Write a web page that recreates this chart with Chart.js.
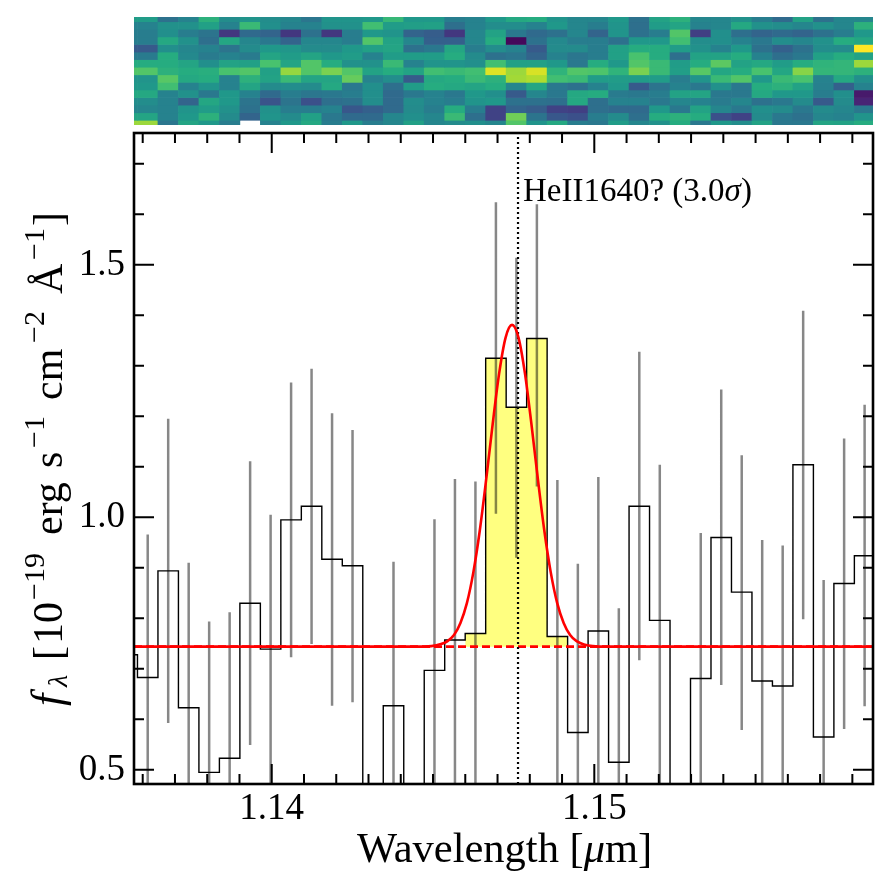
<!DOCTYPE html>
<html>
<head>
<meta charset="utf-8">
<title>HeII1640 spectrum</title>
<script src="https://cdn.jsdelivr.net/npm/chart.js@4/dist/chart.umd.min.js"></script>
<style>
  html, body { margin: 0; padding: 0; background: #fff; }
  #wrap { position: relative; width: 891px; height: 891px; overflow: hidden; }
  #spec { position: absolute; left: 0; top: 0; }
  #heat { position: absolute; left: 134px; top: 17px; }
</style>
</head>
<body>
<div id="wrap">
  <canvas id="spec" width="891" height="891"></canvas>
  <canvas id="heat" width="739" height="108"></canvas>
</div>
<script>
const xRange = [1.13573, 1.15864];
const yRange = [0.472, 1.761];

const xMinorTicks = [1.136, 1.137, 1.138, 1.139, 1.14, 1.141, 1.142, 1.143, 1.144, 1.145, 1.146, 1.147,
  1.148, 1.149, 1.15, 1.151, 1.152, 1.153, 1.154, 1.155, 1.156, 1.157, 1.158];
const xMajorTicks = [1.14, 1.15];
const yMinorTicks = [0.5, 0.6, 0.7, 0.8, 0.9, 1.0, 1.1, 1.2, 1.3, 1.4, 1.5, 1.6, 1.7];
const yMajorTicks = [0.5, 1.0, 1.5];

// spectrum bins
const wave = [1.13552, 1.136155, 1.13679, 1.137425, 1.13806, 1.138695, 1.13933, 1.139965, 1.1406, 1.141235,
  1.14187, 1.142505, 1.14314, 1.143775, 1.14441, 1.145045, 1.14568, 1.146315, 1.14695, 1.147585, 1.14822,
  1.148855, 1.14949, 1.150125, 1.15076, 1.151395, 1.15203, 1.152665, 1.1533, 1.153935, 1.15457, 1.155205,
  1.15584, 1.156475, 1.15711, 1.157745, 1.15838, 1.159015];
const flux = [0.728, 0.683, 0.894, 0.623, 0.495, 0.523, 0.83, 0.739, 0.995, 1.022, 0.917, 0.904, 0.3, 0.627,
  0.4, 0.697, 0.757, 0.77, 1.315, 1.218, 1.354, 0.764, 0.574, 0.775, 0.515, 1.022, 0.796, 0.35, 0.681, 0.96,
  0.852, 0.676, 0.666, 1.104, 0.565, 0.869, 0.924, 0.93];
const errHigh = [1.01, 0.966, 1.195, 0.91, 0.794, 0.812, 1.111, 1.005, 1.267, 1.294, 1.206, 1.173, 0.45, 0.912,
  0.45, 0.996, 1.076, 1.071, 1.624, 1.514, 1.62, 1.074, 0.908, 1.08, 0.82, 1.328, 1.104, 0.45, 0.969, 1.253,
  1.123, 0.955, 0.944, 1.409, 0.876, 1.156, 1.223, 1.2];
const errLow = [0.44, 0.4, 0.593, 0.336, 0.196, 0.234, 0.549, 0.45, 0.723, 0.749, 0.627, 0.634, 0.15, 0.342,
  0.25, 0.398, 0.438, 0.46, 1.007, 0.92, 1.061, 0.454, 0.24, 0.46, 0.21, 0.717, 0.46, 0.2, 0.393, 0.668,
  0.579, 0.397, 0.388, 0.798, 0.254, 0.581, 0.626, 0.66];

// yellow line region
const fillEdges = [1.1459975, 1.1466325, 1.1472675, 1.1479025, 1.1485375, 1.1491725];
const fillFlux = [0.77, 1.315, 1.218, 1.354, 0.764, 0.764];

// fit
const continuum = 0.744;
const fitWave = [1.1355, 1.14445, 1.14495, 1.14525, 1.14545, 1.14565, 1.14585, 1.14605, 1.14625, 1.14645,
  1.14665, 1.14685, 1.14705, 1.14725, 1.14745, 1.14765, 1.14785, 1.14805, 1.14825, 1.14845, 1.14865, 1.14885,
  1.14905, 1.14925, 1.14945, 1.14995, 1.15045, 1.159];
const fitFlux = [0.744, 0.744, 0.745, 0.749, 0.755, 0.767, 0.791, 0.83, 0.891, 0.974, 1.076, 1.185, 1.285,
  1.356, 1.381, 1.356, 1.285, 1.185, 1.076, 0.974, 0.891, 0.83, 0.791, 0.767, 0.755, 0.745, 0.744, 0.744];

const lineWave = 1.147635;
const noteWave = 1.14779;
const noteFlux = 1.627;

// 2D spectrum, top row first (fraction of the colour range)
const heatRow00 = [.52,.52,.33,.40,.62,.45,.48,.45,.42,.35,.48,.48,.50,.65,.50,.50,.38,.40,.50,.58,.60,.48,.42,.42,.50,.33,.55,.62,.42,.42,.47,.38,.30,.55,.33,.42,.42];
const heatRow01 = [.40,.40,.47,.47,.54,.40,.66,.46,.40,.40,.47,.47,.68,.52,.53,.54,.32,.40,.45,.45,.40,.50,.42,.38,.48,.32,.52,.56,.40,.42,.58,.47,.45,.42,.47,.42,.62];
const heatRow02 = [.38,.38,.46,.38,.34,.15,.30,.28,.15,.33,.15,.38,.50,.48,.28,.26,.15,.42,.55,.36,.30,.33,.42,.28,.48,.33,.38,.72,.17,.46,.32,.28,.30,.28,.33,.38,.50];
const heatRow03 = [.38,.38,.58,.47,.32,.57,.42,.36,.28,.42,.42,.38,.72,.55,.42,.27,.27,.42,.60,.02,.33,.43,.38,.38,.33,.50,.50,.68,.45,.46,.40,.36,.45,.42,.47,.60,.57];
const heatRow04 = [.25,.25,.46,.42,.40,.34,.44,.50,.49,.44,.44,.50,.54,.56,.33,.36,.57,.38,.45,.40,.25,.44,.44,.38,.54,.60,.60,.52,.47,.40,.50,.33,.27,.33,.45,.44,1.0];
const heatRow05 = [.37,.37,.60,.43,.37,.40,.37,.56,.52,.56,.50,.52,.40,.52,.52,.52,.60,.44,.33,.35,.28,.40,.35,.38,.54,.70,.60,.32,.55,.55,.60,.40,.32,.36,.54,.60,.55];
const heatRow06 = [.60,.60,.60,.56,.46,.55,.54,.70,.56,.72,.60,.47,.47,.66,.40,.48,.48,.46,.68,.54,.54,.50,.36,.60,.50,.72,.66,.52,.60,.74,.55,.58,.52,.60,.63,.64,.85];
const heatRow07 = [.72,.72,.62,.60,.61,.70,.72,.54,.84,.72,.80,.72,.55,.60,.55,.68,.66,.68,.95,.85,.94,.63,.72,.71,.63,.80,.66,.53,.73,.57,.60,.70,.57,.82,.64,.64,.62];
const heatRow08 = [.48,.48,.73,.58,.60,.40,.62,.55,.66,.56,.56,.76,.40,.45,.25,.58,.60,.66,.62,.86,.88,.68,.66,.52,.52,.52,.52,.38,.48,.66,.72,.50,.66,.70,.40,.58,.46];
const heatRow09 = [.50,.50,.68,.40,.48,.40,.56,.44,.45,.44,.58,.36,.46,.32,.52,.60,.58,.56,.60,.42,.57,.36,.33,.40,.50,.25,.34,.40,.36,.47,.36,.60,.62,.55,.39,.27,.40];
const heatRow10 = [.58,.58,.40,.47,.36,.50,.40,.30,.38,.35,.36,.38,.46,.30,.36,.40,.36,.50,.46,.25,.42,.36,.58,.60,.37,.36,.38,.55,.56,.36,.36,.58,.50,.50,.38,.46,.07];
const heatRow11 = [.45,.45,.40,.28,.57,.50,.34,.23,.34,.22,.32,.33,.45,.30,.45,.40,.38,.48,.50,.33,.33,.32,.58,.32,.40,.40,.36,.42,.40,.37,.42,.33,.36,.44,.25,.44,.10];
const heatRow12 = [.42,.42,.40,.48,.52,.47,.33,.47,.38,.38,.40,.24,.27,.30,.44,.38,.60,.38,.18,.28,.26,.18,.17,.32,.30,.30,.50,.36,.55,.42,.36,.46,.44,.36,.44,.42,.36];
const heatRow13 = [.56,.56,.40,.50,.62,.44,.28,.48,.44,.54,.36,.30,.30,.42,.46,.42,.66,.32,.18,.78,.34,.24,.22,.38,.44,.32,.60,.62,.60,.22,.18,.44,.36,.33,.42,.40,.48];
const heatRow14 = [.85,.85,.35,.56,.50,.38,null,.40,.50,.58,.38,.50,.38,.42,.54,.42,.44,.46,.42,.72,.48,.58,.38,.36,.52,.42,.47,.60,.36,.50,.45,.55,.36,.36,.56,.55,.60];
const heatRows = [heatRow00, heatRow01, heatRow02, heatRow03, heatRow04, heatRow05, heatRow06, heatRow07,
  heatRow08, heatRow09, heatRow10, heatRow11, heatRow12, heatRow13, heatRow14];
const heatRowRange = [0.38, 14.62];

const viridisStops = [[68,1,84],[72,36,117],[62,74,137],[48,106,141],[38,130,142],[32,152,138],[38,172,128],
  [72,194,110],[122,209,81],[189,223,38],[253,231,37]];

function viridis(v) {
  if (v === null) return 'rgba(0,0,0,0)';
  const p = v * (viridisStops.length - 1);
  const i = Math.min(Math.floor(p), viridisStops.length - 2);
  const f = p - i;
  const c = viridisStops[i].map((a, k) => Math.round(a + (viridisStops[i + 1][k] - a) * f));
  return `rgb(${c[0]},${c[1]},${c[2]})`;
}

const serif = '"Liberation Serif", "Times New Roman", serif';

// text made of pieces in different fonts and heights, "at" pins a piece along the line
function drawRuns(ctx, x, y, angle, runs) {
  ctx.save();
  ctx.translate(x, y);
  ctx.rotate(angle);
  ctx.fillStyle = '#000';
  ctx.textBaseline = 'alphabetic';
  ctx.textAlign = 'left';
  let pos = 0;
  runs.forEach(r => {
    ctx.font = r.font;
    if (r.at !== undefined) pos = r.at;
    ctx.fillText(r.text, pos, r.dy || 0);
    pos += ctx.measureText(r.text).width;
  });
  ctx.restore();
}

const framePlugin = {
  id: 'frame',
  afterDraw(chart) {
    const { ctx, chartArea: a, scales } = chart;
    ctx.save();
    ctx.strokeStyle = '#000';
    ctx.lineWidth = 2;
    ctx.beginPath();
    xMinorTicks.forEach(v => {
      const px = scales.x.getPixelForValue(v);
      const len = xMajorTicks.includes(v) ? 20 : 10;
      ctx.moveTo(px, a.bottom); ctx.lineTo(px, a.bottom - len);
      ctx.moveTo(px, a.top); ctx.lineTo(px, a.top + len);
    });
    yMinorTicks.forEach(v => {
      const py = scales.y.getPixelForValue(v);
      const len = yMajorTicks.includes(v) ? 20 : 10;
      ctx.moveTo(a.left, py); ctx.lineTo(a.left + len, py);
      ctx.moveTo(a.right, py); ctx.lineTo(a.right - len, py);
    });
    ctx.stroke();
    ctx.lineWidth = 2.6;
    ctx.strokeRect(a.left, a.top, a.right - a.left, a.bottom - a.top);
    ctx.restore();

    drawRuns(ctx, scales.x.getPixelForValue(noteWave), scales.y.getPixelForValue(noteFlux), 0, [
      { text: 'HeII1640? (3.0', font: `33px ${serif}` },
      { text: 'σ', font: `italic 33px ${serif}` },
      { text: ')', font: `33px ${serif}` }
    ]);

    drawRuns(ctx, 357, 862, 0, [
      { text: 'Wavelength [', font: `42.5px ${serif}` },
      { text: 'μ', font: `italic 42.5px ${serif}` },
      { text: 'm]', font: `42.5px ${serif}` }
    ]);

    const big = `42px ${serif}`;
    const sup = `30px ${serif}`;
    drawRuns(ctx, 62, 706, -Math.PI / 2, [
      { text: 'f', font: `italic 44px ${serif}` },
      { text: 'λ', font: `italic 28px ${serif}`, dy: 5, at: 19 },
      { text: '[', font: big, at: 46 },
      { text: '10', font: big, at: 62 },
      { text: '−19', font: sup, dy: -18, at: 106 },
      { text: 'erg', font: big, at: 171 },
      { text: 's', font: big, at: 238 },
      { text: '−1', font: sup, dy: -18, at: 258 },
      { text: 'cm', font: big, at: 306 },
      { text: '−2', font: sup, dy: -18, at: 363 },
      { text: 'Å', font: big, at: 412 },
      { text: '−1', font: sup, dy: -18, at: 446 },
      { text: ']', font: big, at: 480 }
    ]);
  }
};

new Chart(document.getElementById('spec'), {
  type: 'line',
  data: {
    datasets: [
      {
        data: fillEdges.map((x, i) => ({ x, y: fillFlux[i] })),
        stepped: true,
        borderWidth: 0,
        pointRadius: 0,
        backgroundColor: '#ffff80',
        fill: { value: continuum },
        order: 6
      },
      {
        data: wave.flatMap((x, i) => [{ x, y: errLow[i] }, { x, y: errHigh[i] }, { x, y: null }]),
        borderColor: 'rgba(0,0,0,0.47)',
        borderWidth: 2.5,
        pointRadius: 0,
        spanGaps: false,
        order: 5
      },
      {
        data: wave.map((x, i) => ({ x, y: flux[i] })),
        stepped: 'middle',
        borderColor: '#000',
        borderWidth: 1.4,
        pointRadius: 0,
        order: 4
      },
      {
        data: [{ x: xRange[0], y: continuum }, { x: xRange[1], y: continuum }],
        borderColor: '#f00',
        borderWidth: 2.6,
        borderDash: [8, 4],
        pointRadius: 0,
        order: 3
      },
      {
        data: [{ x: lineWave, y: yRange[0] }, { x: lineWave, y: yRange[1] }],
        borderColor: '#000',
        borderWidth: 2.2,
        borderDash: [2, 3],
        pointRadius: 0,
        order: 2
      },
      {
        data: fitWave.map((x, i) => ({ x, y: fitFlux[i] })),
        borderColor: '#f00',
        borderWidth: 2.6,
        cubicInterpolationMode: 'monotone',
        pointRadius: 0,
        order: 1
      }
    ]
  },
  options: {
    responsive: false,
    animation: false,
    devicePixelRatio: 1,
    layout: { padding: { top: 133, right: 18, left: 0, bottom: 0 } },
    plugins: { legend: { display: false }, tooltip: { enabled: false } },
    scales: {
      x: {
        type: 'linear',
        min: xRange[0],
        max: xRange[1],
        grid: { display: false, drawTicks: false },
        border: { display: false },
        afterBuildTicks: s => { s.ticks = xMinorTicks.map(value => ({ value })); },
        afterFit: s => { s.height = 107; },
        ticks: {
          autoSkip: false,
          maxRotation: 0,
          padding: 3,
          color: '#000',
          font: { family: serif, size: 37 },
          callback: v => (xMajorTicks.includes(v) ? v.toFixed(2) : '')
        }
      },
      y: {
        min: yRange[0],
        max: yRange[1],
        grid: { display: false, drawTicks: false },
        border: { display: false },
        afterBuildTicks: s => { s.ticks = yMinorTicks.map(value => ({ value })); },
        afterFit: s => { s.width = 134; },
        ticks: {
          autoSkip: false,
          padding: 9,
          color: '#000',
          font: { family: serif, size: 37 },
          callback: v => (yMajorTicks.includes(v) ? v.toFixed(1) : '')
        }
      }
    }
  },
  plugins: [framePlugin]
});

// 2D spectrum strip above the main panel
new Chart(document.getElementById('heat'), {
  type: 'bar',
  data: {
    datasets: heatRows.map(row => ({
      data: row.map((v, i) => ({ x: wave[i], y: 1 })),
      backgroundColor: row.map(viridis),
      borderWidth: 0,
      barPercentage: 1,
      categoryPercentage: 1
    }))
  },
  options: {
    responsive: false,
    animation: false,
    devicePixelRatio: 1,
    plugins: { legend: { display: false }, tooltip: { enabled: false } },
    scales: {
      x: { type: 'linear', offset: false, min: xRange[0], max: xRange[1], stacked: true, display: false },
      y: { min: heatRowRange[0], max: heatRowRange[1], reverse: true, stacked: true, display: false }
    }
  }
});
</script>
</body>
</html>
